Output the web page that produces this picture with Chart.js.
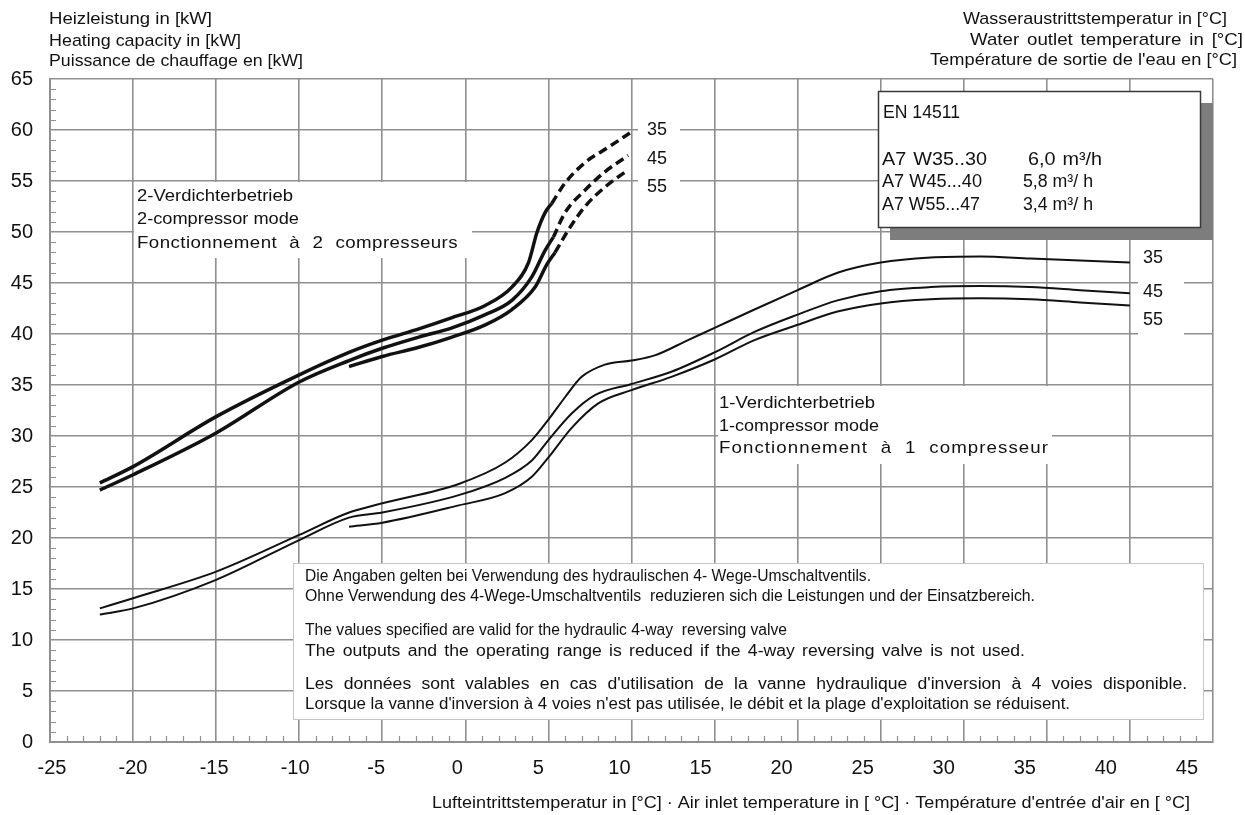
<!DOCTYPE html>
<html>
<head>
<meta charset="utf-8">
<script src="https://cdn.jsdelivr.net/npm/chart.js@4.4.1/dist/chart.umd.min.js"></script>
<style>
html,body{margin:0;padding:0;background:#fff;}
canvas{display:block;}
</style>
</head>
<body>
<canvas id="c" width="1245" height="815"></canvas>
<script>
// ---------- tick labels ----------
const X_TICKS = [-25, -20, -15, -10, -5, 0, 5, 10, 15, 20, 25, 30, 35, 40, 45];
const Y_TICKS = [0, 5, 10, 15, 20, 25, 30, 35, 40, 45, 50, 55, 60, 65];

// ---------- 2-compressor mode (solid part) ----------
const TWO_X_35 = [-22, -20, -15, -10, -7, -5, -2.8, -0.8, 1.2, 2.8, 3.8, 4.3, 4.8, 5.2];
const TWO_Y_35 = [25.4, 27.0, 31.9, 36.0, 38.2, 39.4, 40.5, 41.6, 42.8, 44.6, 47.0, 49.9, 51.9, 52.8];
const TWO_X_45 = [-22, -20, -15, -10, -7, -5, -2.8, -0.8, 1.2, 2.8, 4.0, 4.8, 5.3];
const TWO_Y_45 = [24.7, 26.2, 30.3, 35.3, 37.4, 38.6, 39.7, 40.6, 41.9, 43.3, 45.6, 48.2, 49.5];
const TWO_X_55 = [-7, -5, -2.8, -0.8, 1.2, 2.8, 4.2, 4.9, 5.4];
const TWO_Y_55 = [36.8, 37.8, 38.7, 39.7, 40.9, 42.4, 44.6, 46.8, 48.0];

// ---------- 2-compressor mode (dashed extension) ----------
const DASH_X_35 = [5.2, 6.0, 7.2, 8.6, 9.9];
const DASH_Y_35 = [52.8, 54.8, 56.8, 58.3, 59.7];
const DASH_X_45 = [5.3, 6.0, 7.2, 8.4, 9.8];
const DASH_Y_45 = [49.5, 51.9, 54.1, 55.9, 57.5];
const DASH_X_55 = [5.4, 6.2, 7.2, 8.4, 9.8];
const DASH_Y_55 = [48.0, 50.2, 52.5, 54.4, 56.1];

// ---------- 1-compressor mode ----------
const ONE_X_35 = [-22, -20, -15, -10, -7, -5, -0.4, 2.4, 4.0, 5.0, 6.0, 7.0, 8.4, 10, 11.4, 13.4, 15, 17.4, 20, 22.4, 25, 28, 31, 34, 37, 40];
const ONE_Y_35 = [13.1, 14.1, 16.7, 20.3, 22.5, 23.4, 25.3, 27.4, 29.6, 31.6, 33.8, 35.8, 37.0, 37.4, 37.9, 39.4, 40.6, 42.4, 44.3, 46.0, 47.0, 47.5, 47.6, 47.4, 47.2, 47.0];
const ONE_X_45 = [-22, -20, -15, -10, -7, -5, -0.4, 2.4, 4.0, 5.0, 6.4, 7.8, 10, 12.4, 15, 17.4, 20, 22.4, 25, 28, 31, 34, 37, 40];
const ONE_Y_45 = [12.5, 13.1, 15.9, 19.8, 22.0, 22.5, 24.2, 25.9, 27.6, 29.6, 32.2, 34.0, 35.1, 36.3, 38.2, 40.2, 41.9, 43.3, 44.2, 44.6, 44.7, 44.6, 44.3, 44.0];
const ONE_X_55 = [-7, -5, -0.4, 2.4, 4.0, 5.0, 6.4, 8.0, 10, 12.4, 15, 17.4, 20, 22.4, 25, 28, 31, 34, 37, 40];
const ONE_Y_55 = [21.1, 21.5, 23.2, 24.4, 26.0, 27.9, 30.8, 33.2, 34.5, 35.8, 37.5, 39.4, 40.9, 42.2, 43.0, 43.4, 43.5, 43.4, 43.1, 42.8];

// ---------- texts ----------
const TITLE_LEFT = ['Heizleistung in [kW]', 'Heating capacity in [kW]', 'Puissance de chauffage en [kW]'];
const TITLE_RIGHT = ['Wasseraustrittstemperatur in [°C]', 'Water outlet temperature in [°C]', 'Température de sortie de l\'eau en [°C]'];
const X_TITLE = 'Lufteintrittstemperatur in [°C] · Air inlet temperature in [ °C] · Température d\'entrée d\'air en [ °C]';
const TWO_LABEL = ['2-Verdichterbetrieb', '2-compressor mode', 'Fonctionnement à 2 compresseurs'];
const ONE_LABEL = ['1-Verdichterbetrieb', '1-compressor mode', 'Fonctionnement à 1 compresseur'];
const CURVE_LABELS = ['35', '45', '55'];
const EN_TITLE = 'EN 14511';
const EN_ROWS = ['A7 W35..30', 'A7 W45...40', 'A7 W55...47'];
const EN_FLOWS = ['6,0 m³/h', '5,8 m³/ h', '3,4 m³/ h'];
const NOTES = [
  'Die Angaben gelten bei Verwendung des hydraulischen 4- Wege-Umschaltventils.',
  'Ohne Verwendung des 4-Wege-Umschaltventils  reduzieren sich die Leistungen und der Einsatzbereich.',
  '',
  'The values specified are valid for the hydraulic 4-way  reversing valve',
  'The outputs and the operating range is reduced if the 4-way reversing valve is not used.',
  '',
  'Les données sont valables en cas d\'utilisation de la vanne hydraulique d\'inversion à 4 voies disponible.',
  'Lorsque la vanne d\'inversion à 4 voies n\'est pas utilisée, le débit et la plage d\'exploitation se réduisent.'
];

const pts = (xs, ys) => xs.map((x, i) => ({ x: x, y: ys[i] }));

const FONT = '"Liberation Sans", Arial, sans-serif';
const GRID = '#8f8f8f';
const INK = '#111111';

function solid(xs, ys, w) {
  return { data: pts(xs, ys), borderColor: INK, borderWidth: w, pointRadius: 0,
           cubicInterpolationMode: 'monotone', fill: false, xAxisID: 'x', yAxisID: 'y' };
}
function dashed(xs, ys) {
  const d = solid(xs, ys, 3.5);
  d.borderDash = [9, 5];
  return d;
}

// draw text starting at x (left), spread to the width it has in the picture:
// a mild horizontal stretch first, then wider word gaps, then letter spacing
function fitText(ctx, text, x, y, width) {
  const hasLS = 'letterSpacing' in ctx, hasWS = 'wordSpacing' in ctx;
  ctx.textAlign = 'left';
  if (hasLS) ctx.letterSpacing = '0px';
  if (hasWS) ctx.wordSpacing = '0px';
  const w0 = ctx.measureText(text).width;
  let s = Math.max(0.9, Math.min(1.1, width / w0));
  if (!hasLS && !hasWS) s = width / w0;
  let rem = width / s - w0;
  const nSp = (text.match(/ /g) || []).length;
  let ws = 0, ls = 0;
  if (hasWS && nSp) { ws = Math.max(-1.5, Math.min(6, rem / nSp)); rem -= ws * nSp; }
  if (hasLS) { ls = Math.max(-1, Math.min(3, rem / text.length)); }
  if (hasWS) ctx.wordSpacing = ws.toFixed(2) + 'px';
  if (hasLS) ctx.letterSpacing = ls.toFixed(2) + 'px';
  ctx.save();
  ctx.translate(x, y);
  ctx.scale(s, 1);
  ctx.fillText(text, 0, 0);
  ctx.restore();
  if (hasLS) ctx.letterSpacing = '0px';
  if (hasWS) ctx.wordSpacing = '0px';
}

const overlay = {
  id: 'overlay',
  beforeDatasetsDraw(chart) {
    const { ctx, chartArea: a, scales } = chart;
    const sx = scales.x, sy = scales.y;
    ctx.save();
    // minor ticks
    ctx.strokeStyle = GRID;
    ctx.lineWidth = 1.2;
    ctx.beginPath();
    for (let v = -25; v <= 45; v++) {
      if (v % 5 === 0) continue;
      const px = Math.round(sx.getPixelForValue(v)) + 0.5;
      ctx.moveTo(px, a.bottom); ctx.lineTo(px, a.bottom - 6);
    }
    for (let v = 0; v <= 65; v++) {
      if (v % 5 === 0) continue;
      const py = Math.round(sy.getPixelForValue(v)) + 0.5;
      ctx.moveTo(a.left, py); ctx.lineTo(a.left + 6, py);
    }
    ctx.stroke();

    // white boxes behind the annotation texts
    ctx.fillStyle = '#fff';
    ctx.fillRect(134, 182, 338, 76);
    ctx.fillRect(718, 386, 334, 78);
    ctx.fillRect(638, 118, 42, 80);
    ctx.fillRect(1138, 246, 46, 93);

    // notes box
    ctx.fillRect(293, 563, 910, 156);
    ctx.strokeStyle = '#c6c6c6';
    ctx.lineWidth = 1;
    ctx.strokeRect(293.5, 563.5, 910, 156);

    // EN box with shadow
    ctx.fillStyle = '#7d7d7d';
    ctx.fillRect(890, 103, 323, 137);
    ctx.fillStyle = '#fff';
    ctx.fillRect(878, 91, 323, 137);
    ctx.strokeStyle = '#3a3a3a';
    ctx.lineWidth = 1.5;
    ctx.strokeRect(878.5, 91.5, 322, 136);

    ctx.fillStyle = INK;
    ctx.textBaseline = 'middle';

    // EN texts
    ctx.font = '18px ' + FONT;
    fitText(ctx, EN_TITLE, 883, 113, 77);
    const enW = [105, 100, 98], flX = [1028, 1023, 1023], flW = [74, 70, 70];
    [160, 182, 205].forEach((yy, i) => {
      fitText(ctx, EN_ROWS[i], 882, yy, enW[i]);
      fitText(ctx, EN_FLOWS[i], flX[i], yy, flW[i]);
    });

    // mode labels
    ctx.font = '17px ' + FONT;
    const twoW = [156, 162, 321], oneW = [156, 160, 330];
    [196, 219, 243].forEach((yy, i) => fitText(ctx, TWO_LABEL[i], 137, yy, twoW[i]));
    [403, 426, 448].forEach((yy, i) => fitText(ctx, ONE_LABEL[i], 719, yy, oneW[i]));

    // curve end labels
    ctx.font = '18px ' + FONT;
    ctx.textAlign = 'left';
    [130, 159, 187].forEach((yy, i) => ctx.fillText(CURVE_LABELS[i], 647, yy));
    [258, 292, 320].forEach((yy, i) => ctx.fillText(CURVE_LABELS[i], 1143, yy));

    // notes
    ctx.font = '16px ' + FONT;
    const ny = [577, 597, 0, 631, 652, 0, 685, 705];
    const nw = [566, 730, 0, 482, 720, 0, 882, 765];
    NOTES.forEach((t, i) => { if (t) fitText(ctx, t, 305, ny[i], nw[i]); });

    // titles
    ctx.font = '17px ' + FONT;
    const tlW = [163, 192, 254];
    [19, 41, 61].forEach((yy, i) => fitText(ctx, TITLE_LEFT[i], 49, yy, tlW[i]));
    const trW = [264, 273, 307], trR = [1227, 1243, 1237];
    [19, 40, 60].forEach((yy, i) => fitText(ctx, TITLE_RIGHT[i], trR[i] - trW[i], yy, trW[i]));
    ctx.font = '17px ' + FONT;
    fitText(ctx, X_TITLE, 432, 803, 758);
    ctx.restore();
  }
};

new Chart(document.getElementById('c'), {
  type: 'line',
  data: {
    datasets: [
      solid(TWO_X_35, TWO_Y_35, 3.5),
      solid(TWO_X_45, TWO_Y_45, 3.5),
      solid(TWO_X_55, TWO_Y_55, 3.5),
      dashed(DASH_X_35, DASH_Y_35),
      dashed(DASH_X_45, DASH_Y_45),
      dashed(DASH_X_55, DASH_Y_55),
      solid(ONE_X_35, ONE_Y_35, 2),
      solid(ONE_X_45, ONE_Y_45, 2),
      solid(ONE_X_55, ONE_Y_55, 2)
    ]
  },
  options: {
    responsive: false,
    animation: false,
    devicePixelRatio: 1,
    layout: { autoPadding: false, padding: { left: 0, top: 79, right: 32, bottom: 0 } },
    plugins: { legend: { display: false }, tooltip: { enabled: false }, title: { display: false } },
    scales: {
      x: {
        type: 'linear', position: 'bottom', min: -25, max: 45,
        ticks: { display: false, stepSize: 5 },
        grid: { color: GRID, lineWidth: 1.6, drawTicks: false },
        border: { color: GRID, width: 2 },
        afterFit: s => { s.height = 0; }
      },
      xl: {
        type: 'linear', position: 'bottom', min: -25.12, max: -25.12 + 1163 / 16.214,
        afterBuildTicks: s => { s.ticks = X_TICKS.map(v => ({ value: v })); },
        ticks: { autoSkip: false, maxRotation: 0, color: INK, padding: 14,
                 font: { family: FONT, size: 20 }, callback: v => String(v) },
        grid: { display: false, drawTicks: false },
        border: { display: false },
        afterFit: s => { s.height = 73; }
      },
      y: {
        type: 'linear', position: 'left', min: 0, max: 65,
        afterBuildTicks: s => { s.ticks = Y_TICKS.map(v => ({ value: v })); },
        ticks: { color: INK, padding: 17, font: { family: FONT, size: 20 }, callback: v => String(v) },
        grid: { color: GRID, lineWidth: 1.6, drawTicks: false },
        border: { color: GRID, width: 2 },
        afterFit: s => { s.width = 50; }
      }
    }
  },
  plugins: [overlay]
});
</script>
</body>
</html>
